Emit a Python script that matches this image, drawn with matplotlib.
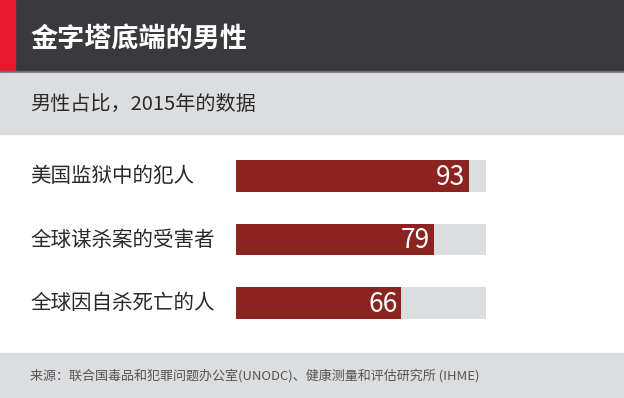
import matplotlib.pyplot as plt
import matplotlib.transforms as mtransforms
from matplotlib.patches import Rectangle

plt.rcParams['font.family'] = ['Noto Sans CJK SC', 'DejaVu Sans']

标题 = "金字塔底端的男性"
副标题 = "男性占比，2015年的数据"
类别 = ["美国监狱中的犯人", "全球谋杀案的受害者", "全球因自杀死亡的人"]
男性占比 = [93, 79, 66]
来源 = "来源：联合国毒品和犯罪问题办公室(UNODC)、健康测量和评估研究所 (IHME)"

W, H = 624, 398
_fig = plt.figure(figsize=(W / 100, H / 100), dpi=100)
_fig.set_facecolor('white')

# 背景色块 (像素坐标)
_bg = _fig.add_axes([0, 0, 1, 1])
_bg.set_xlim(0, W)
_bg.set_ylim(H, 0)
_bg.axis('off')
_bg.add_patch(Rectangle((0, 0), W, 71, color='#3a3a3c'))
_bg.add_patch(Rectangle((0, 0), 15, 71, color='#e8192c'))
_bg.add_patch(Rectangle((0, 71), W, 1.5, color='#6a6a6c'))
_bg.add_patch(Rectangle((0, 72.5), W, 61, color='#dcdddf'))
_bg.add_patch(Rectangle((0, 353), W, 45, color='#dcdddf'))

_bg.text(30, 39, 标题, color='white', fontsize=19.5, fontweight='bold',
         va='center', ha='left')
_bg.text(30, 104, 副标题, color='#2a2a2a', fontsize=14.5, va='center', ha='left')
_bg.text(30, 376, 来源, color='#555555', fontsize=9.4, va='center', ha='left')

# 条形图
x0, x1 = 236, 486
y_top, y_bot = 160, 319
_ax = _fig.add_axes([x0 / W, 1 - y_bot / H, (x1 - x0) / W, (y_bot - y_top) / H])
_ax.set_xlim(0, 100)
_ax.set_ylim(len(类别) - 0.75, -0.25)
_ax.axis('off')

pos = list(range(len(类别)))
_ax.barh(pos, [100] * len(类别), height=0.5, color='#dcdddf')
_ax.barh(pos, 男性占比, height=0.5, color='#8b2320')

for i, v in enumerate(男性占比):
    _ax.text(v - 1.4, i + 0.02, str(v), color='white', fontsize=19,
             fontweight='medium', fontstretch='condensed',
             ha='right', va='center', family=['Noto Sans CJK SC', 'DejaVu Sans'])

_trans = mtransforms.blended_transform_factory(_fig.transFigure, _ax.transData)
for i, name in enumerate(类别):
    _ax.text(30 / W, i, name, transform=_trans, color='#2a2a2a', fontsize=14.8,
             ha='left', va='center', clip_on=False)

plt.savefig('out.png', dpi=100)
